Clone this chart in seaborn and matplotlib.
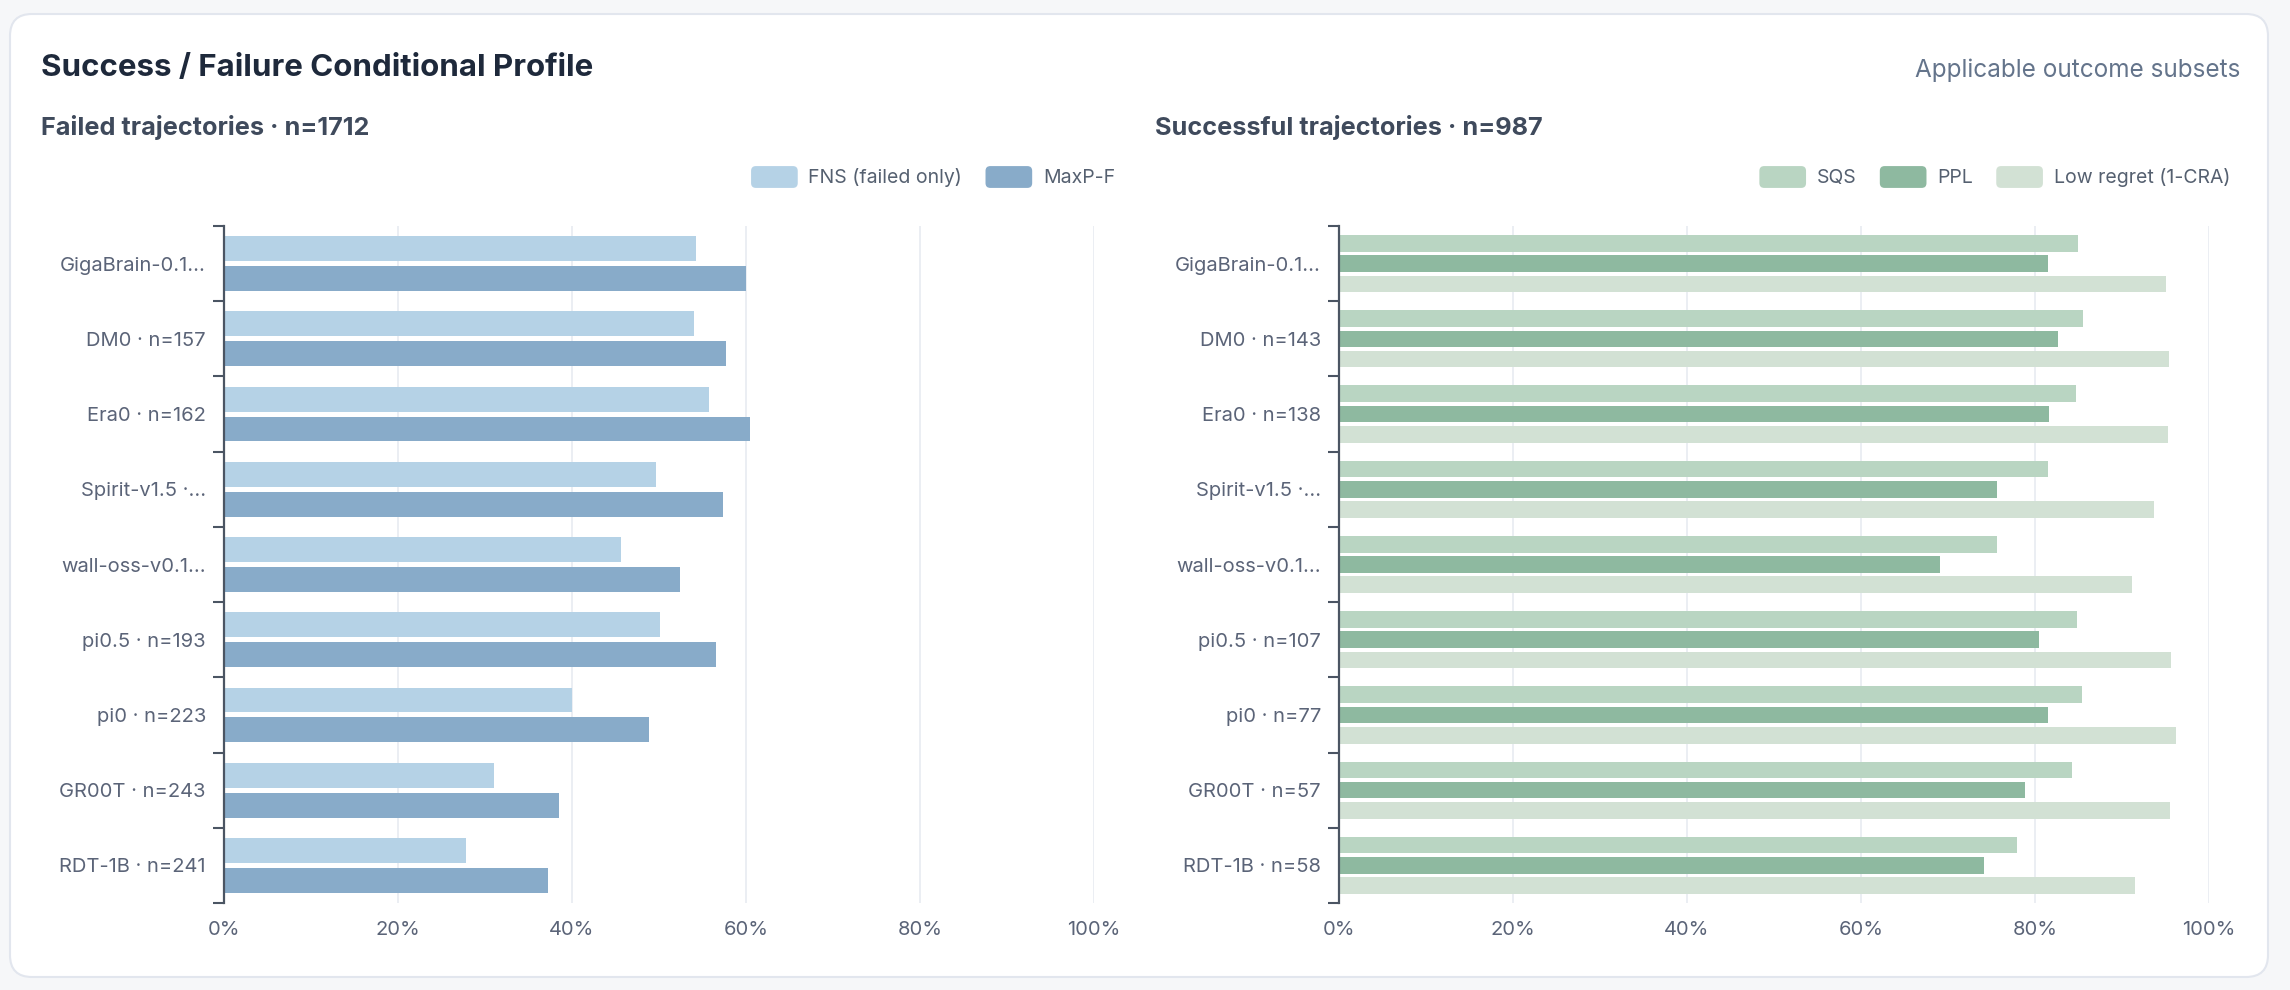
import matplotlib
matplotlib.use("Agg")
import matplotlib.pyplot as plt
from matplotlib.patches import FancyBboxPatch, Patch
from matplotlib.legend_handler import HandlerPatch
from matplotlib.transforms import IdentityTransform
from matplotlib.ticker import FixedLocator, FuncFormatter
import seaborn as sns
import pandas as pd

sns.set_theme(style="white")
plt.rcParams['font.family'] = ['Inter', 'DejaVu Sans']

# ---------------- data ----------------
failed_labels = ["GigaBrain-0.1…", "DM0 · n=157", "Era0 · n=162", "Spirit-v1.5 ·…",
                 "wall-oss-v0.1…", "pi0.5 · n=193", "pi0 · n=223", "GR00T · n=243", "RDT-1B · n=241"]
fns_failed = [54.2, 54.0, 55.7, 49.7, 45.6, 50.1, 40.0, 31.0, 27.8]
maxp_f = [60.0, 57.7, 60.5, 57.3, 52.4, 56.5, 48.8, 38.5, 37.2]

success_labels = ["GigaBrain-0.1…", "DM0 · n=143", "Era0 · n=138", "Spirit-v1.5 ·…",
                  "wall-oss-v0.1…", "pi0.5 · n=107", "pi0 · n=77", "GR00T · n=57", "RDT-1B · n=58"]
sqs = [84.9, 85.5, 84.7, 81.5, 75.6, 84.8, 85.4, 84.2, 77.9]
ppl = [81.5, 82.7, 81.6, 75.6, 69.1, 80.5, 81.5, 78.8, 74.1]
low_regret = [95.0, 95.4, 95.3, 93.7, 91.2, 95.6, 96.2, 95.5, 91.5]

failed_metrics = ["FNS (failed only)", "MaxP-F"]
success_metrics = ["SQS", "PPL", "Low regret (1-CRA)"]
x_ticks = [0, 20, 40, 60, 80, 100]

title = "Success / Failure Conditional Profile"
right_note = "Applicable outcome subsets"
failed_title = "Failed trajectories · n=1712"
success_title = "Successful trajectories · n=987"

# ---------------- styles ----------------
failed_colors = {"FNS (failed only)": "#b5d2e6", "MaxP-F": "#88abc9"}
success_colors = {"SQS": "#b9d5c2", "PPL": "#8eb9a0", "Low regret (1-CRA)": "#d2e1d4"}
TXT_TICK = "#5b6478"
AXIS_C = "#4b5563"
GRID_C = "#e8ebf1"
TICK_FS = 14.5
LEG_FS = 14

df_f = pd.DataFrame({
    "label": failed_labels * 2,
    "metric": [failed_metrics[0]] * 9 + [failed_metrics[1]] * 9,
    "value": fns_failed + maxp_f,
})
df_s = pd.DataFrame({
    "label": success_labels * 3,
    "metric": [success_metrics[0]] * 9 + [success_metrics[1]] * 9 + [success_metrics[2]] * 9,
    "value": sqs + ppl + low_regret,
})

W, H = 2290, 990
fig = plt.figure(figsize=(W / 100, H / 100), dpi=100)
fig.patch.set_facecolor("#f6f7f9")

card = FancyBboxPatch((10, H - 977), 2258, 963, boxstyle="round,pad=0,rounding_size=22",
                      transform=IdentityTransform(), facecolor="white", edgecolor="#e2e6ee",
                      linewidth=1.5, zorder=-5)
fig.add_artist(card)


class RoundHandler(HandlerPatch):
    def create_artists(self, legend, orig_handle, xdescent, ydescent, width, height, fontsize, trans):
        p = FancyBboxPatch((-xdescent, -ydescent), width, height,
                           boxstyle=f"round,pad=0,rounding_size={height * 0.22}",
                           facecolor=orig_handle.get_facecolor(), edgecolor="none", transform=trans)
        return [p]


def px(x0, y0, x1, y1):
    return [x0 / W, 1 - y1 / H, (x1 - x0) / W, (y1 - y0) / H]


def panel(rect, df, metrics, colors, width, bar_h, legend_right):
    ax = fig.add_axes(rect)
    ax.set_facecolor("none")
    sns.barplot(data=df, y="label", x="value", hue="metric", hue_order=metrics,
                palette=colors, orient="h", width=width, ax=ax, legend=False,
                saturation=1, errorbar=None)
    for cont in ax.containers:
        for p in cont:
            h = p.get_height()
            p.set_y(p.get_y() + (h - bar_h) / 2)
            p.set_height(bar_h)
            p.set_edgecolor("none")
    ax.set_xlim(0, 100)
    n = len(df["label"].unique())
    ax.set_ylim(n - 0.5, -0.5)
    ax.xaxis.set_major_locator(FixedLocator(x_ticks))
    ax.xaxis.set_major_formatter(FuncFormatter(lambda v, _: f"{v:.0f}%"))
    ax.grid(axis="x", color=GRID_C, linewidth=1.2)
    ax.grid(axis="y", visible=False)
    ax.set_axisbelow(True)
    for s in ["top", "right", "bottom"]:
        ax.spines[s].set_visible(False)
    ax.spines["left"].set_color(AXIS_C)
    ax.spines["left"].set_linewidth(1.6)
    ax.set_yticks(range(n), minor=False)
    ax.set_yticks([i - 0.5 for i in range(n + 1)], minor=True)
    ax.tick_params(axis="y", which="major", length=0, pad=13, labelsize=TICK_FS, labelcolor=TXT_TICK)
    ax.tick_params(axis="y", which="minor", length=8, width=1.5, color=AXIS_C, left=True)
    ax.tick_params(axis="x", which="major", length=0, pad=13, labelsize=TICK_FS, labelcolor=TXT_TICK)
    ax.set_xlabel("")
    ax.set_ylabel("")
    handles = [Patch(facecolor=colors[m], label=m) for m in metrics]
    ax.legend(handles=handles, loc="center right", bbox_to_anchor=(legend_right / W, 1 - 177 / H),
              bbox_transform=fig.transFigure, ncol=len(metrics), frameon=False,
              handler_map={Patch: RoundHandler()}, handlelength=2.4, handleheight=1.35,
              handletextpad=0.55, columnspacing=1.2, borderpad=0, borderaxespad=0,
              prop={"size": LEG_FS}, labelcolor="#556070")
    return ax


panel(px(224, 226, 1094, 903), df_f, failed_metrics, failed_colors, 0.794, 0.331, 1115)
panel(px(1339, 226, 2209, 903), df_s, success_metrics, success_colors, 0.81, 0.221, 2230)

fig.text(41 / W, 1 - 68 / H, title, fontsize=22.5, fontweight="bold", color="#1e293b",
         va="center", ha="left")
fig.text(2240 / W, 1 - 70 / H, right_note, fontsize=17.5, color="#64748b", va="center", ha="right")
fig.text(41 / W, 1 - 128 / H, failed_title, fontsize=18.2, fontweight="bold", color="#3f4a5c",
         va="center", ha="left")
fig.text(1155 / W, 1 - 128 / H, success_title, fontsize=18.2, fontweight="bold", color="#3f4a5c",
         va="center", ha="left")

fig.savefig("out.png", dpi=100, facecolor=fig.get_facecolor())
